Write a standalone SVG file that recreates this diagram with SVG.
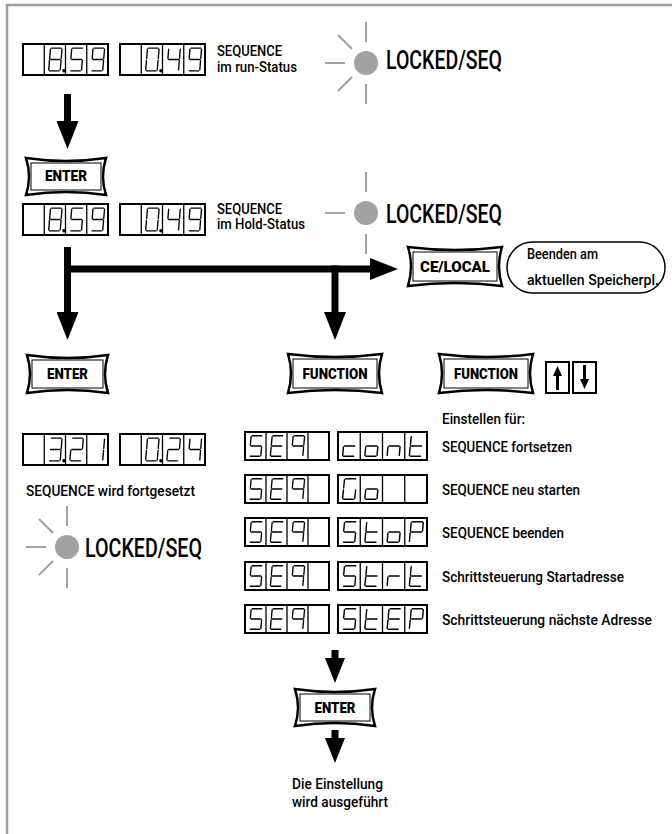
<svg xmlns="http://www.w3.org/2000/svg" width="672" height="834" viewBox="0 0 672 834">
<style>
.frame{fill:none;stroke:#9c9c9c;stroke-width:2.5}
.disp{fill:#fff;stroke:#000;stroke-width:2}
.div{fill:none;stroke:#000;stroke-width:1.3}
.seg{fill:none;stroke:#000;stroke-width:1.4;stroke-linecap:round}
.led{fill:#a2a2a2}
.ray{fill:none;stroke:#a2a2a2;stroke-width:2}
text{font-family:Roboto,"Liberation Sans",Arial,sans-serif;fill:#000}
.lbl{font-size:14px;font-weight:500}
.big{font-size:26px;font-weight:500}
.btn{fill:#fff;stroke:#000;stroke-width:2.5}
.bin{fill:none;stroke:#000;stroke-width:1}
.bt{font-size:14px;font-weight:900;text-anchor:middle}
.conn{fill:none;stroke:#000;stroke-width:7}
.key{fill:#fff;stroke:#000;stroke-width:2}
.karrow{fill:none;stroke:#000;stroke-width:3}
.note{fill:#fff;stroke:#000;stroke-width:1.5}
</style>
<defs>
<path id="D0" d="M7.5 4H17.5M18.4 5L17.6 14M17.4 16L16.6 25M5.5 26H15.5M5.4 16L4.6 25M6.4 5L5.6 14"/>
<path id="D1" d="M18.4 5L17.6 14M17.4 16L16.6 25"/>
<path id="D2" d="M7.5 4H17.5M18.4 5L17.6 14M6.5 15H16.5M5.4 16L4.6 25M5.5 26H15.5"/>
<path id="D3" d="M7.5 4H17.5M18.4 5L17.6 14M6.5 15H16.5M17.4 16L16.6 25M5.5 26H15.5"/>
<path id="D4" d="M6.4 5L5.6 14M6.5 15H16.5M18.4 5L17.6 14M17.4 16L16.6 25"/>
<path id="D5" d="M7.5 4H17.5M6.4 5L5.6 14M6.5 15H16.5M17.4 16L16.6 25M5.5 26H15.5"/>
<path id="D8" d="M7.5 4H17.5M18.4 5L17.6 14M17.4 16L16.6 25M5.5 26H15.5M5.4 16L4.6 25M6.4 5L5.6 14M6.5 15H16.5"/>
<path id="D9" d="M7.5 4H17.5M18.4 5L17.6 14M17.4 16L16.6 25M5.5 26H15.5M6.4 5L5.6 14M6.5 15H16.5"/>
<path id="LE" d="M7.5 4H17.5M5.5 26H15.5M5.4 16L4.6 25M6.4 5L5.6 14M6.5 15H16.5"/>
<path id="Lq" d="M7.5 4H17.5M18.4 5L17.6 14M17.4 16L16.6 25M6.4 5L5.6 14M6.5 15H16.5"/>
<path id="Lc" d="M6.5 15H16.5M5.4 16L4.6 25M5.5 26H15.5"/>
<path id="Lo" d="M6.5 15H16.5M17.4 16L16.6 25M5.5 26H15.5M5.4 16L4.6 25"/>
<path id="Ln" d="M5.4 16L4.6 25M6.5 15H16.5M17.4 16L16.6 25"/>
<path id="Lt" d="M6.4 5L5.6 14M6.5 15H16.5M5.4 16L4.6 25M5.5 26H15.5"/>
<path id="LG" d="M7.5 4H17.5M6.4 5L5.6 14M5.4 16L4.6 25M5.5 26H15.5M17.4 16L16.6 25"/>
<path id="LP" d="M7.5 4H17.5M18.4 5L17.6 14M5.4 16L4.6 25M6.4 5L5.6 14M6.5 15H16.5"/>
<path id="Lr" d="M5.4 16L4.6 25M6.5 15H16.5"/>
<circle id="dp" cx="20.3" cy="26" r="1.7" fill="#000" stroke="none"/>
<marker id="ah" markerUnits="userSpaceOnUse" markerWidth="28" markerHeight="22" refX="1" refY="11" orient="auto"><path d="M0,0L28,11L0,22Z" fill="#000"/></marker>
<marker id="ahs" markerUnits="userSpaceOnUse" markerWidth="25" markerHeight="20" refX="1" refY="10" orient="auto"><path d="M0,0L25,10L0,20Z" fill="#000"/></marker>
</defs>

<path class="frame" d="M7,834V5H672"/>

<!-- Row 1 -->
<g id="disp1a" transform="translate(23,44)"><rect class="disp" width="85" height="31"/><path class="div" d="M21.25 0V31M42.5 0V31M63.75 0V31"/><g class="seg"><use href="#D8" transform="matrix(.966 0 0 1.033 21.25 0)"/><use href="#dp" transform="matrix(.966 0 0 1.033 21.25 0)"/><use href="#D5" transform="matrix(.966 0 0 1.033 42.5 0)"/><use href="#D9" transform="matrix(.966 0 0 1.033 63.75 0)"/></g></g>
<g id="disp1b" transform="translate(120,44)"><rect class="disp" width="85" height="31"/><path class="div" d="M21.25 0V31M42.5 0V31M63.75 0V31"/><g class="seg"><use href="#D0" transform="matrix(.966 0 0 1.033 21.25 0)"/><use href="#dp" transform="matrix(.966 0 0 1.033 21.25 0)"/><use href="#D4" transform="matrix(.966 0 0 1.033 42.5 0)"/><use href="#D9" transform="matrix(.966 0 0 1.033 63.75 0)"/></g></g>
<g id="label1"><text class="lbl" x="217" y="56" textLength="65" lengthAdjust="spacingAndGlyphs">SEQUENCE</text><text class="lbl" x="217" y="72" textLength="80" lengthAdjust="spacingAndGlyphs">im run-Status</text></g>
<g id="led1"><g transform="translate(366,63)"><path class="ray" d="M0,-21V-41M0,21V41M-21,0H-41M-14,-14L-28,-28M-14,14L-28,28"/><circle class="led" r="12"/></g><text class="big" x="386" y="69" textLength="116" lengthAdjust="spacingAndGlyphs">LOCKED/SEQ</text></g>

<g id="enter1"><path class="btn" d="M26,158Q66,164 106,158Q100,176.5 106,195Q66,189 26,195Q32,176.5 26,158Z"/><rect class="bin" x="31" y="163" width="70" height="27"/><text class="bt" x="66" y="181" textLength="42" lengthAdjust="spacingAndGlyphs">ENTER</text></g>

<!-- Row 2 -->
<g id="disp2a" transform="translate(23,204)"><rect class="disp" width="85" height="31"/><path class="div" d="M21.25 0V31M42.5 0V31M63.75 0V31"/><g class="seg"><use href="#D8" transform="matrix(.966 0 0 1.033 21.25 0)"/><use href="#dp" transform="matrix(.966 0 0 1.033 21.25 0)"/><use href="#D5" transform="matrix(.966 0 0 1.033 42.5 0)"/><use href="#D9" transform="matrix(.966 0 0 1.033 63.75 0)"/></g></g>
<g id="disp2b" transform="translate(120,204)"><rect class="disp" width="85" height="31"/><path class="div" d="M21.25 0V31M42.5 0V31M63.75 0V31"/><g class="seg"><use href="#D0" transform="matrix(.966 0 0 1.033 21.25 0)"/><use href="#dp" transform="matrix(.966 0 0 1.033 21.25 0)"/><use href="#D4" transform="matrix(.966 0 0 1.033 42.5 0)"/><use href="#D9" transform="matrix(.966 0 0 1.033 63.75 0)"/></g></g>
<g id="label2"><text class="lbl" x="217" y="214" textLength="65" lengthAdjust="spacingAndGlyphs">SEQUENCE</text><text class="lbl" x="217" y="229" textLength="88" lengthAdjust="spacingAndGlyphs">im Hold-Status</text></g>
<g id="led2"><g transform="translate(366,213)"><path class="ray" d="M0,-21V-41M0,21V41M-21,0H-41"/><circle class="led" r="12"/></g><text class="big" x="386" y="223" textLength="116" lengthAdjust="spacingAndGlyphs">LOCKED/SEQ</text></g>

<g id="celocal"><path class="btn" d="M408,247Q455,253 502,247Q496,266.5 502,286Q455,280 408,286Q414,266.5 408,247Z"/><rect class="bin" x="413" y="252" width="84" height="29"/><text class="bt" x="455" y="271.5" textLength="70" lengthAdjust="spacingAndGlyphs">CE/LOCAL</text></g>
<g id="note"><rect class="note" x="507" y="242" width="158" height="51" rx="25.5"/><text class="lbl" x="527" y="259" textLength="71" lengthAdjust="spacingAndGlyphs">Beenden am</text><text class="lbl" x="527" y="285" textLength="132" lengthAdjust="spacingAndGlyphs">aktuellen Speicherpl.</text></g>

<!-- Row 3 buttons -->
<g id="enter2"><path class="btn" d="M27,355Q67.5,361 108,355Q102,374 108,393Q67.5,387 27,393Q33,374 27,355Z"/><rect class="bin" x="32" y="360" width="71" height="28"/><text class="bt" x="67.5" y="379" textLength="41" lengthAdjust="spacingAndGlyphs">ENTER</text></g>
<g id="function1"><path class="btn" d="M288,354Q335,360 382,354Q376,373.5 382,393Q335,387 288,393Q294,373.5 288,354Z"/><rect class="bin" x="293" y="359" width="84" height="29"/><text class="bt" x="335" y="378.5" textLength="65" lengthAdjust="spacingAndGlyphs">FUNCTION</text></g>
<g id="function2"><path class="btn" d="M439,354Q486,360 533,354Q527,373.5 533,393Q486,387 439,393Q445,373.5 439,354Z"/><rect class="bin" x="444" y="359" width="84" height="29"/><text class="bt" x="486" y="378.5" textLength="64" lengthAdjust="spacingAndGlyphs">FUNCTION</text></g>
<g id="keys"><rect class="key" x="546" y="362" width="23" height="31"/><path class="karrow" d="M557.5,390V374"/><path d="M553,376L557.5,366L562,376Z"/><rect class="key" x="573" y="362" width="23" height="31"/><path class="karrow" d="M584.5,365V381"/><path d="M580,379L584.5,389L589,379Z"/></g>
<g id="einstellen"><text class="lbl" x="442" y="424" textLength="83" lengthAdjust="spacingAndGlyphs">Einstellen für:</text></g>

<!-- Left bottom -->
<g id="disp3a" transform="translate(23,434)"><rect class="disp" width="85" height="31"/><path class="div" d="M21.25 0V31M42.5 0V31M63.75 0V31"/><g class="seg"><use href="#D3" transform="matrix(.966 0 0 1.033 21.25 0)"/><use href="#dp" transform="matrix(.966 0 0 1.033 21.25 0)"/><use href="#D2" transform="matrix(.966 0 0 1.033 42.5 0)"/><use href="#D1" transform="matrix(.966 0 0 1.033 63.75 0)"/></g></g>
<g id="disp3b" transform="translate(120,434)"><rect class="disp" width="85" height="31"/><path class="div" d="M21.25 0V31M42.5 0V31M63.75 0V31"/><g class="seg"><use href="#D0" transform="matrix(.966 0 0 1.033 21.25 0)"/><use href="#dp" transform="matrix(.966 0 0 1.033 21.25 0)"/><use href="#D2" transform="matrix(.966 0 0 1.033 42.5 0)"/><use href="#D4" transform="matrix(.966 0 0 1.033 63.75 0)"/></g></g>
<g id="label3"><text class="lbl" x="26" y="496" textLength="169" lengthAdjust="spacingAndGlyphs">SEQUENCE wird fortgesetzt</text></g>
<g id="led3"><g transform="translate(67,547)"><path class="ray" d="M0,-21V-41M0,21V41M-21,0H-41M-14,-14L-28,-28M-14,14L-28,28"/><circle class="led" r="12"/></g><text class="big" x="85" y="557" textLength="117" lengthAdjust="spacingAndGlyphs">LOCKED/SEQ</text></g>

<!-- Right option rows -->
<g id="opt1"><g transform="translate(245,432)"><rect class="disp" width="84" height="28"/><path class="div" d="M21 0V28M42 0V28M63 0V28"/><g class="seg"><use href="#D5" transform="matrix(.955 0 0 .933 0 0)"/><use href="#LE" transform="matrix(.955 0 0 .933 21 0)"/><use href="#Lq" transform="matrix(.955 0 0 .933 42 0)"/></g></g><g transform="translate(338,432)"><rect class="disp" width="89" height="28"/><path class="div" d="M22.25 0V28M44.5 0V28M66.75 0V28"/><g class="seg"><use href="#Lc" transform="matrix(1.011 0 0 .933 0 0)"/><use href="#Lo" transform="matrix(1.011 0 0 .933 22.25 0)"/><use href="#Ln" transform="matrix(1.011 0 0 .933 44.5 0)"/><use href="#Lt" transform="matrix(1.011 0 0 .933 66.75 0)"/></g></g><text class="lbl" x="442" y="452" textLength="130" lengthAdjust="spacingAndGlyphs">SEQUENCE fortsetzen</text></g>
<g id="opt2"><g transform="translate(245,475)"><rect class="disp" width="84" height="28"/><path class="div" d="M21 0V28M42 0V28M63 0V28"/><g class="seg"><use href="#D5" transform="matrix(.955 0 0 .933 0 0)"/><use href="#LE" transform="matrix(.955 0 0 .933 21 0)"/><use href="#Lq" transform="matrix(.955 0 0 .933 42 0)"/></g></g><g transform="translate(338,475)"><rect class="disp" width="89" height="28"/><path class="div" d="M22.25 0V28M44.5 0V28M66.75 0V28"/><g class="seg"><use href="#LG" transform="matrix(1.011 0 0 .933 0 0)"/><use href="#Lo" transform="matrix(1.011 0 0 .933 22.25 0)"/></g></g><text class="lbl" x="442" y="495" textLength="138" lengthAdjust="spacingAndGlyphs">SEQUENCE neu starten</text></g>
<g id="opt3"><g transform="translate(245,518)"><rect class="disp" width="84" height="28"/><path class="div" d="M21 0V28M42 0V28M63 0V28"/><g class="seg"><use href="#D5" transform="matrix(.955 0 0 .933 0 0)"/><use href="#LE" transform="matrix(.955 0 0 .933 21 0)"/><use href="#Lq" transform="matrix(.955 0 0 .933 42 0)"/></g></g><g transform="translate(338,518)"><rect class="disp" width="89" height="28"/><path class="div" d="M22.25 0V28M44.5 0V28M66.75 0V28"/><g class="seg"><use href="#D5" transform="matrix(1.011 0 0 .933 0 0)"/><use href="#Lt" transform="matrix(1.011 0 0 .933 22.25 0)"/><use href="#Lo" transform="matrix(1.011 0 0 .933 44.5 0)"/><use href="#LP" transform="matrix(1.011 0 0 .933 66.75 0)"/></g></g><text class="lbl" x="442" y="538" textLength="122" lengthAdjust="spacingAndGlyphs">SEQUENCE beenden</text></g>
<g id="opt4"><g transform="translate(245,562)"><rect class="disp" width="84" height="28"/><path class="div" d="M21 0V28M42 0V28M63 0V28"/><g class="seg"><use href="#D5" transform="matrix(.955 0 0 .933 0 0)"/><use href="#LE" transform="matrix(.955 0 0 .933 21 0)"/><use href="#Lq" transform="matrix(.955 0 0 .933 42 0)"/></g></g><g transform="translate(338,562)"><rect class="disp" width="89" height="28"/><path class="div" d="M22.25 0V28M44.5 0V28M66.75 0V28"/><g class="seg"><use href="#D5" transform="matrix(1.011 0 0 .933 0 0)"/><use href="#Lt" transform="matrix(1.011 0 0 .933 22.25 0)"/><use href="#Lr" transform="matrix(1.011 0 0 .933 44.5 0)"/><use href="#Lt" transform="matrix(1.011 0 0 .933 66.75 0)"/></g></g><text class="lbl" x="442" y="582" textLength="182" lengthAdjust="spacingAndGlyphs">Schrittsteuerung Startadresse</text></g>
<g id="opt5"><g transform="translate(245,605)"><rect class="disp" width="84" height="28"/><path class="div" d="M21 0V28M42 0V28M63 0V28"/><g class="seg"><use href="#D5" transform="matrix(.955 0 0 .933 0 0)"/><use href="#LE" transform="matrix(.955 0 0 .933 21 0)"/><use href="#Lq" transform="matrix(.955 0 0 .933 42 0)"/></g></g><g transform="translate(338,605)"><rect class="disp" width="89" height="28"/><path class="div" d="M22.25 0V28M44.5 0V28M66.75 0V28"/><g class="seg"><use href="#D5" transform="matrix(1.011 0 0 .933 0 0)"/><use href="#Lt" transform="matrix(1.011 0 0 .933 22.25 0)"/><use href="#LE" transform="matrix(1.011 0 0 .933 44.5 0)"/><use href="#LP" transform="matrix(1.011 0 0 .933 66.75 0)"/></g></g><text class="lbl" x="442" y="625" textLength="210" lengthAdjust="spacingAndGlyphs">Schrittsteuerung nächste Adresse</text></g>

<g id="enter3"><path class="btn" d="M295,689Q335,695 375,689Q369,707.5 375,726Q335,720 295,726Q301,707.5 295,689Z"/><rect class="bin" x="300" y="694" width="70" height="27"/><text class="bt" x="335" y="712.5" textLength="41" lengthAdjust="spacingAndGlyphs">ENTER</text></g>
<g id="result"><text class="lbl" x="292" y="789" textLength="91" lengthAdjust="spacingAndGlyphs">Die Einstellung</text><text class="lbl" x="292" y="807" textLength="96" lengthAdjust="spacingAndGlyphs">wird ausgeführt</text></g>

<g id="connectors">
<path class="conn" d="M67.5,94V122" marker-end="url(#ah)"/>
<path class="conn" d="M67.5,247V313" marker-end="url(#ah)"/>
<path class="conn" d="M64,269H371" marker-end="url(#ah)"/>
<path class="conn" d="M335,265.5V313" marker-end="url(#ah)"/>
<path class="conn" d="M335,650V659" marker-end="url(#ahs)"/>
<path class="conn" d="M335,730V739" marker-end="url(#ahs)"/>
</g>
</svg>
